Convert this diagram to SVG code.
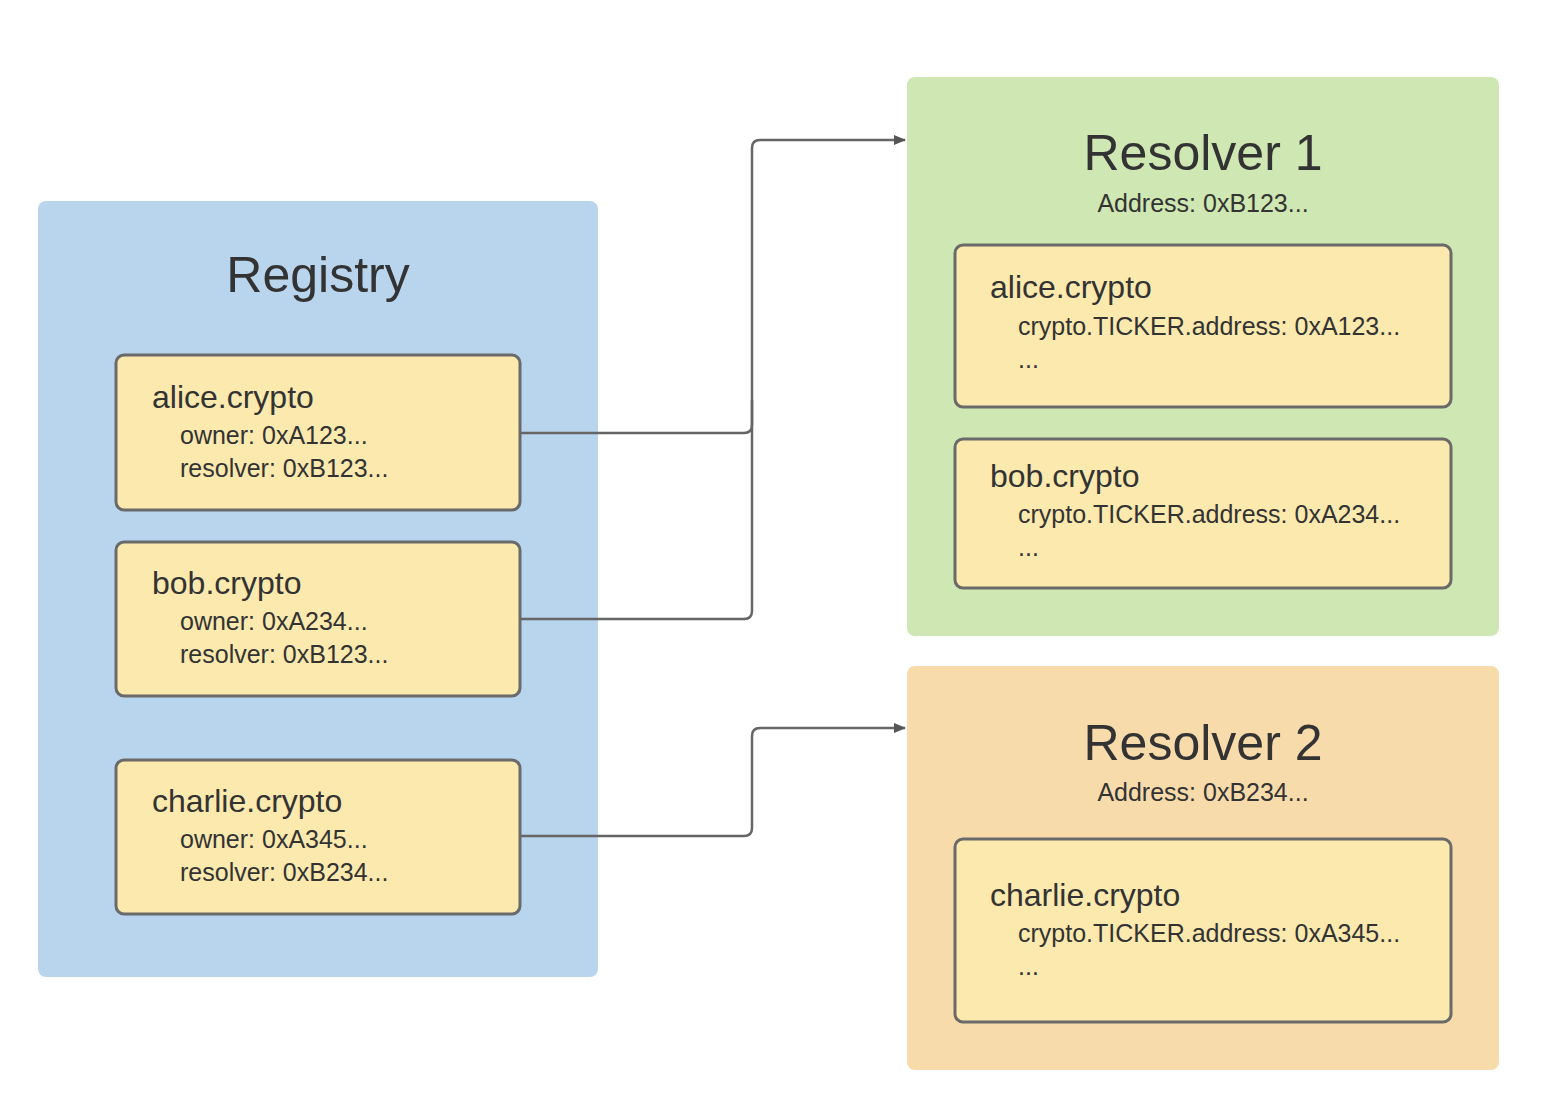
<svg xmlns="http://www.w3.org/2000/svg" width="1552" height="1114" viewBox="0 0 1552 1114">
<defs>
<marker id="arr" markerWidth="12" markerHeight="10" refX="11" refY="5" orient="auto" markerUnits="userSpaceOnUse" viewBox="0 0 12 10"><path d="M0,0 L12,5 L0,10 Z" fill="#555"/></marker>
</defs>
<style>
text{font-family:"Liberation Sans",Arial,sans-serif;fill:#333}
.node{fill:#fbe9ae;stroke:#6a6a6a;stroke-width:3}
.h{font-size:32px}
.s{font-size:25px}
.t{font-size:50px;text-anchor:middle}
.a{font-size:25px;text-anchor:middle}
.c{fill:none;stroke:#666;stroke-width:2.5}
</style>
<rect width="1552" height="1114" fill="#fff"/>
<g id="registry">
<rect x="38" y="201" width="560" height="776" rx="8" fill="#b9d5ee"/>
<text x="318" y="292" class="t">Registry</text>
</g>
<g id="reg-alice">
<rect class="node" x="116" y="355" width="404" height="155" rx="8"/>
<text x="152" y="408" class="h">alice.crypto</text>
<text x="180" y="444" class="s">owner: 0xA123...</text>
<text x="180" y="477" class="s">resolver: 0xB123...</text>
</g>
<g id="reg-bob">
<rect class="node" x="116" y="542" width="404" height="154" rx="8"/>
<text x="152" y="594" class="h">bob.crypto</text>
<text x="180" y="630" class="s">owner: 0xA234...</text>
<text x="180" y="663" class="s">resolver: 0xB123...</text>
</g>
<g id="reg-charlie">
<rect class="node" x="116" y="760" width="404" height="154" rx="8"/>
<text x="152" y="812" class="h">charlie.crypto</text>
<text x="180" y="848" class="s">owner: 0xA345...</text>
<text x="180" y="881" class="s">resolver: 0xB234...</text>
</g>
<g id="resolver1">
<rect x="907" y="77" width="592" height="559" rx="8" fill="#cfe7b2"/>
<text x="1203" y="170" class="t">Resolver 1</text>
<text x="1203" y="212" class="a">Address: 0xB123...</text>
</g>
<g id="r1-alice">
<rect class="node" x="955" y="245" width="496" height="162" rx="8"/>
<text x="990" y="298" class="h">alice.crypto</text>
<text x="1018" y="335" class="s">crypto.TICKER.address: 0xA123...</text>
<text x="1018" y="368" class="s">...</text>
</g>
<g id="r1-bob">
<rect class="node" x="955" y="439" width="496" height="149" rx="8"/>
<text x="990" y="487" class="h">bob.crypto</text>
<text x="1018" y="523" class="s">crypto.TICKER.address: 0xA234...</text>
<text x="1018" y="556" class="s">...</text>
</g>
<g id="resolver2">
<rect x="907" y="666" width="592" height="404" rx="8" fill="#f8dbab"/>
<text x="1203" y="760" class="t">Resolver 2</text>
<text x="1203" y="801" class="a">Address: 0xB234...</text>
</g>
<g id="r2-charlie">
<rect class="node" x="955" y="839" width="496" height="183" rx="8"/>
<text x="990" y="906" class="h">charlie.crypto</text>
<text x="1018" y="942" class="s">crypto.TICKER.address: 0xA345...</text>
<text x="1018" y="975" class="s">...</text>
</g>
<g id="connectors">
<path class="c" d="M520,433 H744 Q752,433 752,425 V148 Q752,140 760,140 H905" marker-end="url(#arr)"/>
<path class="c" d="M520,619 H744 Q752,619 752,611 V400"/>
<path class="c" d="M520,836 H744 Q752,836 752,828 V736 Q752,728 760,728 H905" marker-end="url(#arr)"/>
</g>
</svg>
